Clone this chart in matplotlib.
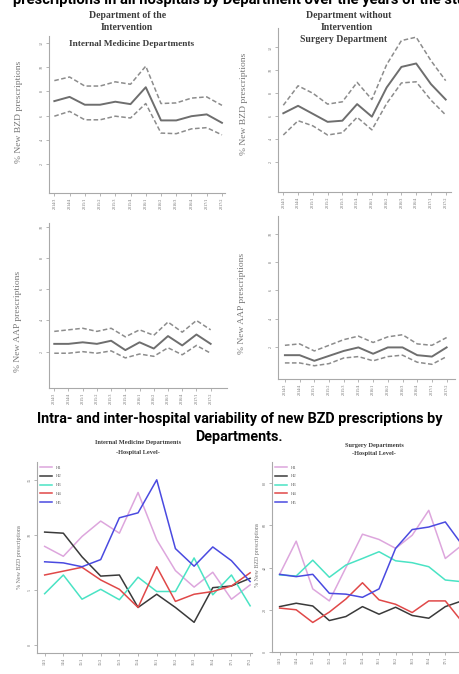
import matplotlib.pyplot as plt

W, H = 459, 674

# quarters
q_long = ['2014/3', '2014/4', '2015/1', '2015/2', '2015/3', '2015/4',
          '2016/1', '2016/2', '2016/3', '2016/4', '2017/1', '2017/2']
q_short = ['14/3', '14/4', '15/1', '15/2', '15/3', '15/4',
           '16/1', '16/2', '16/3', '16/4', '17/1', '17/2']

# % new BZD prescriptions, mean and 95% CI
im_bzd = [7.2, 7.55, 6.9, 6.9, 7.15, 6.95, 8.35, 5.6, 5.6, 5.95, 6.1, 5.4]
im_bzd_hi = [8.9, 9.2, 8.45, 8.45, 8.8, 8.6, 10.1, 7.0, 7.05, 7.45, 7.55, 6.85]
im_bzd_lo = [5.95, 6.35, 5.65, 5.65, 5.95, 5.8, 7.0, 4.55, 4.5, 4.9, 5.0, 4.4]
sur_bzd = [6.25, 6.9, 6.2, 5.5, 5.6, 7.05, 5.95, 8.5, 10.3, 10.6, 8.8, 7.45]
sur_bzd_hi = [6.95, 8.65, 8.0, 7.05, 7.25, 8.95, 7.45, 10.5, 12.6, 12.9, 10.85, 9.1]
sur_bzd_lo = [4.35, 5.6, 5.15, 4.35, 4.55, 5.9, 4.8, 7.1, 8.9, 9.0, 7.4, 6.1]

# % new AAP prescriptions, mean and 95% CI
im_aap = [2.5, 2.5, 2.6, 2.5, 2.7, 2.1, 2.6, 2.2, 3.0, 2.4, 3.1, 2.5]
im_aap_hi = [3.3, 3.4, 3.5, 3.3, 3.5, 2.95, 3.4, 3.05, 3.9, 3.25, 4.0, 3.4]
im_aap_lo = [1.9, 1.9, 2.0, 1.9, 2.05, 1.6, 1.85, 1.7, 2.25, 1.8, 2.4, 1.9]
sur_aap = [1.4, 1.4, 1.0, 1.35, 1.7, 1.95, 1.5, 1.95, 1.95, 1.4, 1.3, 1.95]
sur_aap_hi = [2.1, 2.2, 1.7, 2.1, 2.5, 2.75, 2.3, 2.7, 2.85, 2.2, 2.1, 2.65]
sur_aap_lo = [0.85, 0.85, 0.65, 0.8, 1.2, 1.3, 1.0, 1.3, 1.4, 0.9, 0.75, 1.3]

# hospital level, % new BZD prescriptions
hosp = ['H1', 'H2', 'H3', 'H4', 'H5']
hosp_colors = ['#dda6dd', '#3a3a3a', '#4ae3c4', '#e04848', '#4a4ae0']
im_hosp = [
    [9.0, 8.1, 9.9, 11.3, 10.2, 13.9, 9.6, 6.8, 5.3, 6.65, 4.2, 5.5],
    [10.3, 10.2, 8.05, 6.3, 6.4, 3.45, 4.65, 3.45, 2.1, 5.25, 5.4, 6.1],
    [4.7, 6.4, 4.2, 5.1, 4.15, 6.2, 4.9, 4.9, 7.95, 4.6, 6.4, 3.6],
    [6.4, 6.75, 7.1, 5.95, 5.1, 3.45, 7.15, 4.0, 4.65, 4.9, 5.4, 6.6],
    [7.6, 7.5, 7.15, 7.8, 11.6, 12.05, 15.05, 8.8, 7.2, 8.95, 7.7, 5.8],
]
sur_hosp = [
    [36.8, 52.5, 29.9, 24.2, 40.0, 55.8, 53.3, 49.1, 55.3, 67.1, 44.3, 50.6],
    [21.5, 23.1, 21.8, 14.9, 16.8, 21.5, 17.9, 21.2, 17.3, 16.0, 21.5, 24.2],
    [36.5, 36.0, 43.5, 35.4, 41.2, 44.3, 47.5, 43.2, 42.3, 40.4, 34.1, 33.3],
    [20.8, 20.0, 14.0, 18.9, 25.1, 32.8, 24.7, 22.6, 18.7, 24.2, 24.2, 14.4],
    [36.8, 35.7, 36.8, 27.8, 27.4, 25.9, 29.9, 49.1, 58.0, 59.2, 61.6, 50.9],
]

fig = plt.figure(figsize=(W / 100, H / 100), dpi=100)
fig.patch.set_facecolor('white')
SERIF = 'Liberation Serif'
HEAD = ['Roboto', 'DejaVu Sans']


def px_axes(x0, y0, x1, y1):
    return fig.add_axes([x0 / W, 1 - y1 / H, (x1 - x0) / W, (y1 - y0) / H])


def ftext(x, y, s, **kw):
    fig.text(x / W, 1 - y / H, s, **kw)


def style(ax, xlabels, yticks, size=3):
    for s in ['top', 'right']:
        ax.spines[s].set_visible(False)
    for s in ['left', 'bottom']:
        ax.spines[s].set_color('#a9a9a9')
        ax.spines[s].set_linewidth(0.8)
    ax.set_xticks(range(len(xlabels)))
    ax.set_xticklabels(xlabels, rotation=90, family=SERIF)
    ax.set_yticks(yticks)
    ax.set_yticklabels([str(t) for t in yticks], rotation=90, va='center', family=SERIF)
    ax.tick_params(colors='#a9a9a9', length=2, width=0.6, labelsize=size,
                   labelcolor='#6a6a6a', pad=1.5)
    ax.set_facecolor('white')


def ci_panel(ax, mean, hi, lo):
    x = range(len(mean))
    ax.plot(x, hi, color='#8c8c8c', lw=1.1, ls=(0, (3, 1.6)))
    ax.plot(x, lo, color='#8c8c8c', lw=1.1, ls=(0, (3, 1.6)))
    ax.plot(x, mean, color='#6e6e6e', lw=1.4)


# top-left: internal medicine BZD
ax1 = px_axes(49, 36, 225, 193)
ci_panel(ax1, im_bzd, im_bzd_hi, im_bzd_lo)
ax1.set_xlim(-0.35, 11.2)
ax1.set_ylim(-0.42, 12.6)
style(ax1, q_long, [2, 4, 6, 8, 10, 12])

# top-right: surgery BZD
ax2 = px_axes(278, 28, 451, 192)
ci_panel(ax2, sur_bzd, sur_bzd_hi, sur_bzd_lo)
ax2.set_xlim(-0.36, 11.36)
ax2.set_ylim(-0.63, 13.7)
style(ax2, q_long, [2, 4, 6, 8, 10, 12])

# AAP internal medicine
ax3 = px_axes(49, 223, 227, 388)
ci_panel(ax3, im_aap, im_aap_hi, im_aap_lo)
ax3.set_xlim(-0.37, 12.15)
ax3.set_ylim(-0.33, 10.25)
style(ax3, q_long, [2, 4, 6, 8, 10])

# AAP surgery
ax4 = px_axes(278, 216, 455, 379)
ci_panel(ax4, sur_aap, sur_aap_hi, sur_aap_lo)
ax4.set_xlim(-0.47, 11.57)
ax4.set_ylim(-0.29, 11.27)
style(ax4, q_long, [2, 4, 6, 8, 10])

# hospital level panels
ax5 = px_axes(37, 462, 252, 653)
for name, col, vals in zip(hosp, hosp_colors, im_hosp):
    ax5.plot(range(12), vals, color=col, lw=1.1, label=name)
ax5.set_xlim(-0.41, 11.1)
ax5.set_ylim(-0.69, 16.67)
style(ax5, q_short, [0, 5, 10, 15])

ax6 = px_axes(272, 462, 470, 652)
for name, col, vals in zip(hosp, hosp_colors, sur_hosp):
    ax6.plot(range(12), vals, color=col, lw=1.1, label=name)
ax6.set_xlim(-0.46, 11.49)
ax6.set_ylim(0, 90)
style(ax6, q_short, [0, 20, 40, 60, 80])

for ax in (ax5, ax6):
    leg = ax.legend(loc='upper left', frameon=False, handlelength=2.5,
                    labelspacing=0.95, borderaxespad=0.3, prop={'family': SERIF, 'size': 3.4})
    for t in leg.get_texts():
        t.set_color('#666666')

# panel titles
tkw = dict(family=SERIF, weight='bold', color='#3c3c3c', ha='center', va='center')
ftext(128, 15, 'Department of the', fontsize=7.0, **tkw)
ftext(127, 27, 'Intervention', fontsize=7.0, **tkw)
ftext(132, 43.5, 'Internal Medicine Departments', fontsize=6.7, **tkw)
ftext(349, 15, 'Department without', fontsize=7.0, **tkw)
ftext(347, 27, 'Intervention', fontsize=7.0, **tkw)
ftext(344, 39.5, 'Surgery Department', fontsize=7.0, **tkw)
ftext(138, 442.5, 'Internal Medicine Departments', fontsize=4.6, **tkw)
ftext(138, 452.5, '-Hospital Level-', fontsize=4.6, **tkw)
ftext(374, 445, 'Surgery Departments', fontsize=4.6, **tkw)
ftext(374, 454, '-Hospital Level-', fontsize=4.6, **tkw)

# y labels
lkw = dict(family=SERIF, color='#777777', ha='center', va='center', rotation=90)
ftext(19, 112, '% New BZD prescriptions', fontsize=6.8, **lkw)
ftext(244, 104, '% New BZD prescriptions', fontsize=6.8, **lkw)
ftext(18, 321, '% New AAP prescriptions', fontsize=6.8, **lkw)
ftext(242, 303, '% New AAP prescriptions', fontsize=6.8, **lkw)
ftext(20, 557, '% New BZD prescriptions', fontsize=4.3, **lkw)
ftext(258, 555, '% New BZD prescriptions', fontsize=4.3, **lkw)

# slide headings (the first one is cut off by the top edge, as in the source)
ftext(13, 4, 'prescriptions in all hospitals by Department over the years of the study',
      family=HEAD, weight='bold', fontsize=10.6, color='black', ha='left', va='baseline')
ftext(240, 419, 'Intra- and inter-hospital variability of new BZD prescriptions by',
      family=HEAD, weight='bold', fontsize=10.4, color='black', ha='center', va='center')
ftext(239, 437, 'Departments.',
      family=HEAD, weight='bold', fontsize=10.4, color='black', ha='center', va='center')

fig.savefig('out.png', dpi=100)
